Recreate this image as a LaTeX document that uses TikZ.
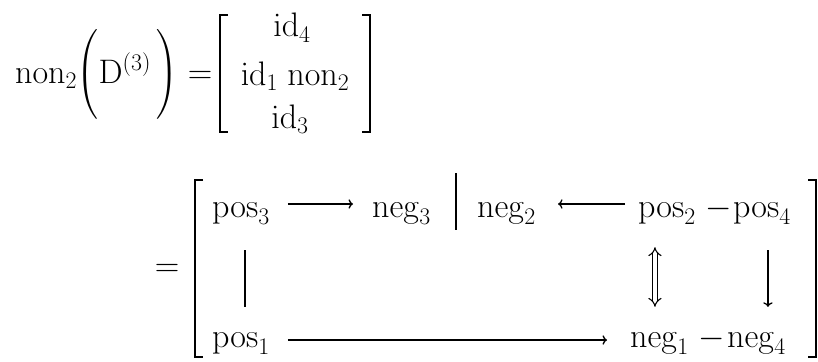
\RequirePackage{fix-cm}
\documentclass[tikz,border=0pt]{standalone}
\usepackage{amsmath}
\usepackage{tikz}
\usetikzlibrary{arrows.meta}

\begin{document}
\begin{tikzpicture}[
    x=1pt, y=-1pt,
    font=\fontsize{34}{40}\selectfont,
    term/.style={inner sep=0pt, anchor=base west, text height=22pt, text depth=8pt},
    termtop/.style={term, text height=34pt},
    delim/.style={line width=1.4pt},
    arrow/.style={->, line width=1.3pt},
    dblarrow/.style={Implies-Implies, double, double distance=3.5pt, line width=1.1pt}
]
\useasboundingbox (0,0) rectangle (818,361);

% Left hand side
\node[inner sep=0pt, anchor=base west] (lhs) at (15,83) {$\mathrm{non}_2\biggl(\mathrm{D}^{(3)}\,\biggr)$};
\node[inner sep=0pt, anchor=base] (eq1) at (200,83) {$=$};

% First column vector
\draw[delim] (228,15) -- (220,15) -- (220,132) -- (228,132);
\draw[delim] (362,15) -- (370,15) -- (370,132) -- (362,132);
\node[inner sep=0pt, anchor=base] (id4) at (292,37) {$\mathrm{id}_4$};
\node[inner sep=0pt, anchor=base] (id1non2) at (295,85) {$\mathrm{id}_1\;\mathrm{non}_2$};
\node[inner sep=0pt, anchor=base] (id3) at (290,128) {$\mathrm{id}_3$};

% Second form
\node[inner sep=0pt, anchor=base] (eq2) at (167,276) {$=$};
\draw[delim] (203,180) -- (195,180) -- (195,357) -- (203,357);
\draw[delim] (808,180) -- (816,180) -- (816,357) -- (808,357);

% Top row
\node[termtop] (pos3) at (212,217) {$\mathrm{pos}_3$};
\node[termtop] (neg3) at (372,217) {$\mathrm{neg}_3$};
\draw[delim] (456,173) -- (456,230);
\node[termtop] (neg2) at (477,217) {$\mathrm{neg}_2$};
\node[termtop] (pos2) at (638,217) {$\mathrm{pos}_2$};
\node[termtop, anchor=base] (minus1) at (719,217) {$-$};
\node[termtop] (pos4) at (733,217) {$\mathrm{pos}_4$};

% Bottom row
\node[term] (pos1) at (212,347) {$\mathrm{pos}_1$};
\node[term] (neg1) at (630,347) {$\mathrm{neg}_1$};
\node[term, anchor=base] (minus2) at (712,347) {$-$};
\node[term] (neg4) at (727,347) {$\mathrm{neg}_4$};

% Arrows
\draw[arrow, shorten <=18pt, shorten >=19pt] (pos3) -- (neg3);
\draw[arrow, shorten <=13pt, shorten >=22pt] (pos2) -- (neg2);
\draw[arrow, shorten <=18pt, shorten >=23pt] (pos1) -- (neg1);

% Verticals
\draw[delim, shorten <=25pt, shorten >=18pt] ([xshift=4pt]pos3.south) -- ([xshift=4pt]pos3.south |- pos1.north);
\draw[dblarrow, shorten <=22pt, shorten >=18pt] ([xshift=-12pt]pos2.south) -- ([xshift=-12pt]pos2.south |- neg1.north);
\draw[arrow, shorten <=25pt, shorten >=18pt] ([xshift=6pt]pos4.south) -- ([xshift=6pt]pos4.south |- neg4.north);

\end{tikzpicture}
\end{document}
